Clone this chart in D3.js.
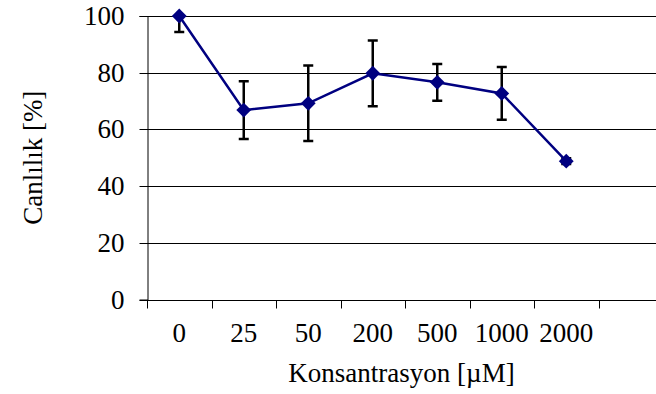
<!DOCTYPE html>
<html>
<head>
<meta charset="utf-8">
<script src="https://cdn.jsdelivr.net/npm/d3@7"></script>
<style>
  body { margin: 0; background: #fff; }
  text { font-family: "Liberation Serif", "Times New Roman", serif; fill: #000; }
</style>
</head>
<body>
<div id="chart"></div>
<script>
// concentrations (x categories)
var categories = ["0", "25", "50", "200", "500", "1000", "2000"];
// viability %, mean values
var viability = [100, 66.8, 69.2, 79.8, 76.6, 72.7, 48.8];
// error (+/-)
var errors = [5.6, 10.2, 13.3, 11.6, 6.5, 9.3, 1.0];
var yTicks = [0, 20, 40, 60, 80, 100];

var width = 656, height = 394;
var margin = {top: 16, right: 0, bottom: 94.5, left: 147};
var plotBottom = height - margin.bottom;
var fontSize = "27px";

var svg = d3.select("#chart").append("svg")
    .attr("width", width)
    .attr("height", height);

// one empty slot after the last category, like the original
var xscale = d3.scaleBand()
    .domain(categories.concat([""]))
    .range([margin.left, margin.left + 8 * 64.5]);

var yscale = d3.scaleLinear()
    .domain([0, 100])
    .range([plotBottom, margin.top]);

svg.append("clipPath").attr("id", "plotclip")
  .append("rect")
    .attr("x", margin.left)
    .attr("y", margin.top)
    .attr("width", width - margin.left)
    .attr("height", plotBottom - margin.top);

//grid lines
svg.append("g").selectAll("line")
  .data(yTicks.filter(function(d){ return d > 0; }))
  .enter().append("line")
    .attr("x1", margin.left)
    .attr("x2", width)
    .attr("y1", function(d){ return Math.round(yscale(d)) + 0.5; })
    .attr("y2", function(d){ return Math.round(yscale(d)) + 0.5; })
    .attr("stroke", "#000")
    .attr("stroke-width", 1);

//Y axis
var yaxis = d3.axisLeft(yscale).tickValues(yTicks).tickSize(8).tickPadding(15);
var yg = svg.append("g")
    .attr("transform", "translate(" + (margin.left + 0.5) + ",0)")
    .call(yaxis);
yg.selectAll("text").style("font-size", fontSize).style("font-family", "Liberation Serif");
yg.selectAll("line").attr("stroke", "#000");
yg.select(".domain").attr("stroke", "#000");
yg.selectAll(".tick").attr("transform", function(d){
  return "translate(0," + (Math.round(yscale(d)) + 0.5) + ")";
});

//X axis (ticks between categories)
var xaxis = d3.axisBottom(xscale).tickSize(0).tickPadding(22);
var xg = svg.append("g")
    .attr("transform", "translate(0," + (Math.round(plotBottom) + 0.5) + ")")
    .call(xaxis);
xg.select(".domain").attr("d", "M" + margin.left + ",0H" + width).attr("stroke", "#000");
xg.selectAll("text").style("font-size", fontSize).style("font-family", "Liberation Serif");
xg.selectAll(".boundary")
  .data(xscale.domain())
  .enter().append("line")
    .attr("class", "boundary")
    .attr("x1", function(d){ return Math.round(xscale(d)) + 0.5; })
    .attr("x2", function(d){ return Math.round(xscale(d)) + 0.5; })
    .attr("y1", 0)
    .attr("y2", 8)
    .attr("stroke", "#000");

//axis titles
svg.append("text")
    .attr("x", (margin.left + width) / 2)
    .attr("y", 382)
    .attr("text-anchor", "middle")
    .style("font-size", fontSize)
    .text("Konsantrasyon [\u00b5M]");

svg.append("text")
    .attr("transform", "translate(42," + (margin.top + plotBottom) / 2 + ") rotate(-90)")
    .attr("text-anchor", "middle")
    .style("font-size", fontSize)
    .text("Canlılık [%]");

var data = categories.map(function(c, i){
  return {cat: c, value: viability[i], err: errors[i]};
});
function cx(d){ return xscale(d.cat) + xscale.bandwidth() / 2; }

//error bars
var eb = svg.append("g").attr("clip-path", "url(#plotclip)")
  .selectAll("g").data(data).enter().append("g")
    .attr("stroke", "#000").attr("stroke-width", 2.5);
eb.append("line")
    .attr("x1", cx).attr("x2", cx)
    .attr("y1", function(d){ return yscale(d.value + d.err); })
    .attr("y2", function(d){ return yscale(d.value - d.err); });
eb.append("line")
    .attr("x1", function(d){ return cx(d) - 5; })
    .attr("x2", function(d){ return cx(d) + 5; })
    .attr("y1", function(d){ return yscale(d.value + d.err); })
    .attr("y2", function(d){ return yscale(d.value + d.err); });
eb.append("line")
    .attr("x1", function(d){ return cx(d) - 5; })
    .attr("x2", function(d){ return cx(d) + 5; })
    .attr("y1", function(d){ return yscale(d.value - d.err); })
    .attr("y2", function(d){ return yscale(d.value - d.err); });

//line
var line = d3.line()
    .x(cx)
    .y(function(d){ return yscale(d.value); });
svg.append("path")
    .datum(data)
    .attr("d", line)
    .attr("fill", "none")
    .attr("stroke", "#000080")
    .attr("stroke-width", 2.5);

//diamond markers
svg.append("g").selectAll("path")
  .data(data)
  .enter().append("path")
    .attr("d", d3.symbol().type(d3.symbolSquare).size(110))
    .attr("transform", function(d){ return "translate(" + cx(d) + "," + yscale(d.value) + ") rotate(45)"; })
    .attr("fill", "#000080");
</script>
</body>
</html>
